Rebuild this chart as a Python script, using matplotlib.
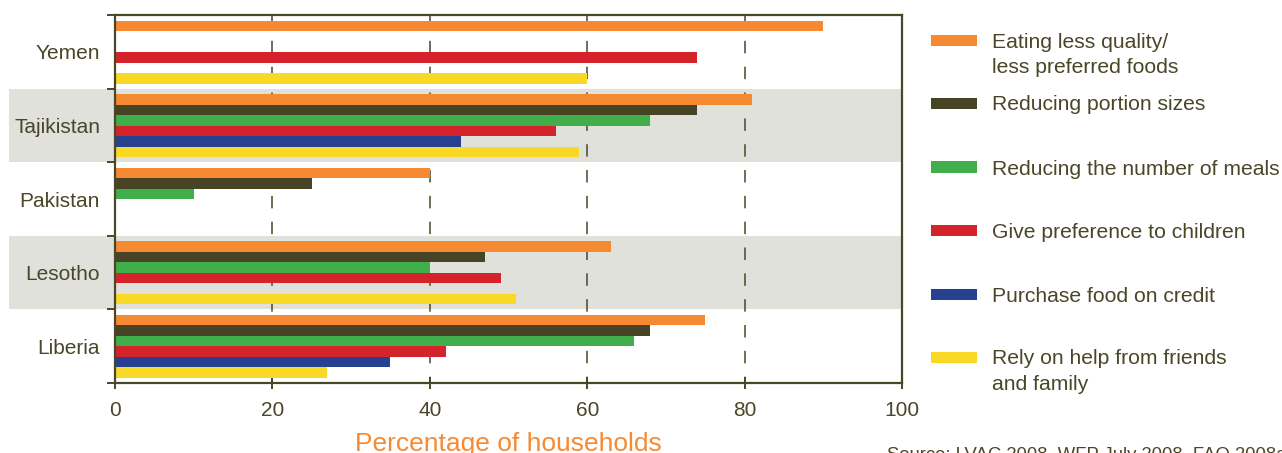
import matplotlib
matplotlib.use("Agg")
import matplotlib.pyplot as plt
import matplotlib.transforms as mtransforms
from matplotlib.patches import Rectangle

# ---- data -------------------------------------------------------------
countries = ["Yemen", "Tajikistan", "Pakistan", "Lesotho", "Liberia"]

strategies = [
    "Eating less quality/\nless preferred foods",
    "Reducing portion sizes",
    "Reducing the number of meals",
    "Give preference to children",
    "Purchase food on credit",
    "Rely on help from friends\nand family",
]

eating_less = [90, 81, 40, 63, 75]
portion_sizes = [None, 74, 25, 47, 68]
fewer_meals = [None, 68, 10, 40, 66]
children_first = [74, 56, None, 49, 42]
food_on_credit = [None, 44, None, None, 35]
help_friends = [60, 59, None, 51, 27]

series = [eating_less, portion_sizes, fewer_meals,
          children_first, food_on_credit, help_friends]

colors = ["#f58a32", "#474325", "#40ae4b", "#d4232b", "#25418f", "#fad826"]
shaded_rows = ["Tajikistan", "Lesotho"]

x_ticks = [0, 20, 40, 60, 80, 100]
x_label = "Percentage of households"
source_text = "Source: LVAC 2008, WFP July 2008, FAO 2008a"

# ---- style ------------------------------------------------------------
plt.rcParams["font.family"] = ["Liberation Sans", "DejaVu Sans"]
plt.rcParams["lines.scale_dashes"] = False
ink = "#4a4628"
shade = "#e1e1dc"

W, H = 1282, 453
fig = plt.figure(figsize=(W / 100, H / 100), dpi=100)


def fx(px):
    return px / W


def fy(py):
    return 1 - py / H


ax = fig.add_axes([fx(115), fy(383), fx(902) - fx(115), fy(15) - fy(383)])

n_groups = len(countries)
ax.set_xlim(0, 100)
ax.set_ylim(n_groups, 0)

slot = 0.1427
top_pad = 0.075

# shaded bands reaching out under the country names
band_tr = mtransforms.blended_transform_factory(fig.transFigure, ax.transData)
for name in shaded_rows:
    i = countries.index(name)
    ax.add_patch(Rectangle((fx(9), i), fx(902) - fx(9), 1, transform=band_tr,
                           facecolor=shade, edgecolor="none", zorder=0.5,
                           clip_on=False))

# dashed vertical guides
ax.vlines(x_ticks[1:-1], 0, n_groups, colors=ink, linewidth=1.1,
          linestyles=[(0, (9.0, 9.6))], zorder=1)

# bars
for j, (vals, col) in enumerate(zip(series, colors)):
    ys, xs = [], []
    for i, v in enumerate(vals):
        if v is not None:
            ys.append(i + top_pad + slot * (j + 0.5))
            xs.append(v)
    ax.barh(ys, xs, height=slot, color=col, edgecolor="none", zorder=2)

# spines
for side in ["left", "right", "top", "bottom"]:
    ax.spines[side].set_color(ink)
    ax.spines[side].set_linewidth(1.6)
    ax.spines[side].set_zorder(3)

# x axis
ax.set_xticks(x_ticks)
ax.set_xticklabels([str(t) for t in x_ticks])
ax.tick_params(axis="x", direction="inout", length=8.6, width=1.4,
               color=ink, labelcolor=ink, labelsize=15, pad=9)

# y axis: group boundaries as ticks, names centred between them
ax.set_yticks(range(n_groups + 1))
ax.set_yticklabels([])
ax.tick_params(axis="y", which="major", direction="out", length=5.8,
               width=1.4, color=ink)
ax.set_yticks([i + 0.5 for i in range(n_groups)], minor=True)
ax.set_yticklabels(countries, minor=True)
ax.tick_params(axis="y", which="minor", length=0, pad=10.8,
               labelcolor=ink, labelsize=15)

# axis title and source
fig.text(fx(508.5), fy(451), x_label, color="#f58a32", fontsize=19,
         ha="center", va="baseline")
fig.text(fx(887), fy(460), source_text, color=ink, fontsize=13.3,
         ha="left", va="baseline")

# legend
legend_centers = [40, 103, 167, 230, 294, 357]
for label, col, cy in zip(strategies, colors, legend_centers):
    fig.add_artist(Rectangle((fx(931), fy(cy + 5.5)), fx(977) - fx(931),
                             fy(cy - 5.5) - fy(cy + 5.5),
                             transform=fig.transFigure, facecolor=col,
                             edgecolor="none"))
    for k, line in enumerate(label.split("\n")):
        fig.text(fx(992), fy(cy + 7.5 + 25.5 * k), line, color=ink,
                 fontsize=15.2, ha="left", va="baseline")

fig.savefig("out.png", dpi=100)
